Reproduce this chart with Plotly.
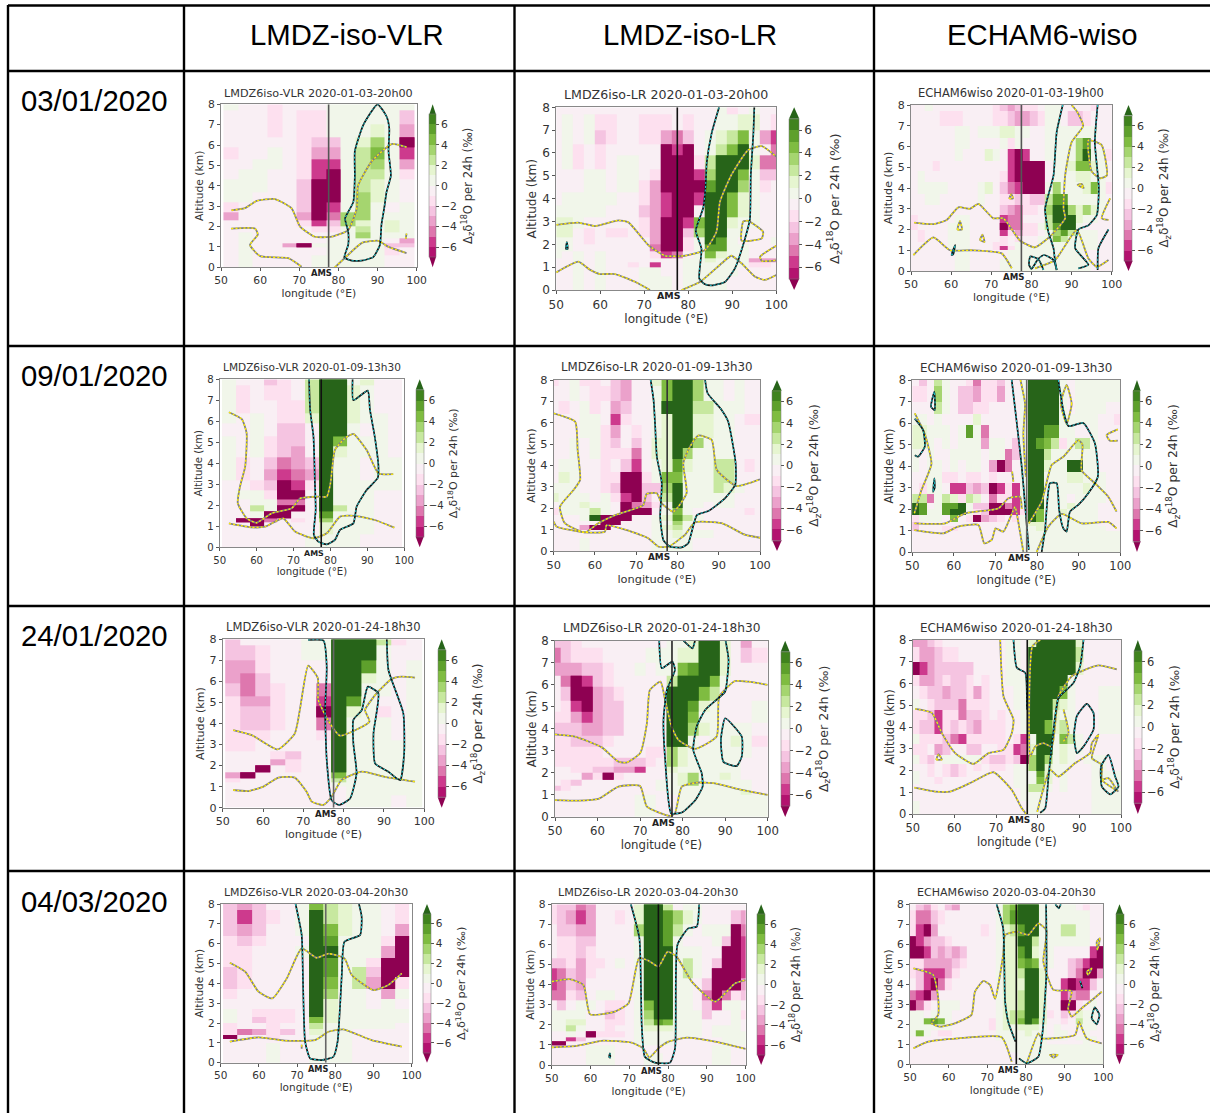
import plotly.graph_objects as go

W, H = 1210, 1113
LEVEL_EDGES = [0, 0.6, 1.0, 1.2, 1.4, 1.7, 2.0, 2.3, 2.7, 3.2, 3.7, 4.3, 4.8, 5.3, 5.9, 6.4, 7.0, 7.7, 8]
LON_VLR = [52.5, 56.25, 60, 63.75, 67.5, 71.25, 75, 78.75, 82.5, 86.25, 90, 93.75, 97.5]
LON_LR = [50, 52.5, 55, 57.5, 60, 62.5, 65, 67.5, 70, 72.5, 75, 77.5, 80, 82.5, 85, 87.5, 90, 92.5, 95, 97.5, 100]
LON_ECH = [50.625, 52.5, 54.375, 56.25, 58.125, 60, 61.875, 63.75, 65.625, 67.5, 69.375, 71.25, 73.125, 75, 76.875,
           78.75, 80.625, 82.5, 84.375, 86.25, 88.125, 90, 91.875, 93.75, 95.625, 97.5, 99.375]
AMS_LON = 77.5
COL_HEADERS = ["LMDZ-iso-VLR", "LMDZ-iso-LR", "ECHAM6-wiso"]
ROW_DATES = ["03/01/2020", "09/01/2020", "24/01/2020", "04/03/2020"]
TITLES = ["LMDZ6iso-VLR 2020-01-03-20h00", "LMDZ6iso-LR 2020-01-03-20h00", "ECHAM6wiso 2020-01-03-19h00",
          "LMDZ6iso-VLR 2020-01-09-13h30", "LMDZ6iso-LR 2020-01-09-13h30", "ECHAM6wiso 2020-01-09-13h30",
          "LMDZ6iso-VLR 2020-01-24-18h30", "LMDZ6iso-LR 2020-01-24-18h30", "ECHAM6wiso 2020-01-24-18h30",
          "LMDZ6iso-VLR 2020-03-04-20h30", "LMDZ6iso-LR 2020-03-04-20h30", "ECHAM6wiso 2020-03-04-20h30"]

# Values are the colour class: k = between k-1 and k, -k = between -k and -k+1. Rows run from 8 km down.
Z1 = [
[1,-1,-1,-2,-1,-1,-1,1,1,1,1,1,1],
[-1,-1,-1,-2,-1,-2,-2,1,1,1,1,1,-3],
[-1,-1,-1,-2,-1,-2,-2,1,1,1,2,1,-4],
[-1,-1,-1,-1,-1,-2,-3,-3,1,2,4,1,-7],
[-2,-1,-1,1,-1,-2,-4,-4,1,3,5,1,-6],
[-1,-1,1,1,-1,-2,-6,-6,1,3,4,1,-4],
[-1,1,1,-1,-1,-2,-6,-7,1,3,3,1,-2],
[1,1,1,-1,-1,-3,-7,-7,1,3,2,1,-1],
[1,1,-1,-1,-1,-3,-7,-7,1,4,2,1,-1],
[-2,-1,-1,-1,-1,-3,-7,-6,1,4,1,-1,1],
[-4,-1,-1,-1,-1,-4,-7,-5,4,4,1,1,1],
[-1,-1,-1,-1,-1,-2,-6,-3,4,2,1,2,1],
[-1,-1,-1,-1,-1,-1,-2,-2,1,3,1,2,1],
[-1,1,-1,-1,-1,-1,-1,-1,1,4,1,1,1],
[-1,1,-1,-1,-1,-1,-1,1,1,1,1,-1,-4],
[-1,1,-1,-1,-4,-7,1,1,1,1,1,-3,-3],
[-1,1,-1,-1,-1,-1,-1,1,1,1,1,-2,-1],
[-1,1,-1,-1,-1,-1,1,1,1,1,1,-1,-1]]
Z2 = [
[-1,-1,-1,-1,-1,-1,-1,-1,-1,-1,-1,-1,-1,-1,-1,1,-2,-1,1,-1,-1],
[-1,1,-1,1,-2,-2,-1,-1,-2,-2,-2,-1,-2,-1,-1,1,1,2,2,-1,-2],
[-1,1,-1,1,-3,-2,-1,-1,-2,-2,-4,-5,-3,-1,1,2,3,5,1,-4,-6],
[-1,1,-2,-1,-2,-1,-1,-1,-1,-1,-7,-6,-7,-1,1,3,5,7,1,-1,-5],
[-1,1,-2,-1,-2,-1,1,1,-1,-1,-7,-7,-7,-2,3,7,7,7,2,-5,-5],
[-1,-1,-1,1,1,-1,1,1,-1,-2,-7,-7,-7,-6,4,7,7,5,1,-3,-3],
[-1,-1,-1,1,1,-1,1,1,-2,-4,-7,-7,-7,-7,6,7,7,4,1,-2,-1],
[-1,1,1,1,1,1,-1,-1,-2,-4,-6,-7,-7,-6,7,7,5,2,1,-1,-1],
[1,1,1,1,1,-1,-1,-1,-3,-4,-6,-7,-7,-1,7,7,5,2,1,-1,-1],
[2,2,1,-1,-1,-1,-1,-1,-2,-4,-7,-7,-6,5,7,7,2,1,1,-1,-1],
[2,2,-1,-2,-1,-2,-2,-1,-2,-4,-7,-7,-3,4,7,7,1,1,-1,-1,-1],
[1,1,-1,-2,-1,-1,-1,-1,-1,-4,-7,-7,-2,1,7,6,1,-1,-1,-1,1],
[1,1,-1,-1,-1,-1,-1,-1,-1,-5,-7,-7,-2,1,6,6,1,1,-1,-1,-1],
[1,-1,1,-1,1,-1,-1,-1,-1,-2,-6,-5,-1,1,5,2,1,1,-1,-1,-1],
[-1,-1,1,-1,1,-1,-1,-1,-1,-1,-1,-1,1,1,2,1,1,1,-4,-4,-4],
[-1,-1,1,-1,1,-1,-1,-2,-1,-6,-1,-1,1,1,1,1,1,1,-2,-2,-1],
[-1,-1,1,-1,1,-1,-1,-1,1,1,-1,-1,1,1,1,1,1,-1,-1,-1,-1],
[-1,-1,1,-1,1,-1,-1,-1,1,1,1,-1,1,1,1,1,-1,-1,-1,-1,-1]]
Z3 = [
[-1,-1,1,-1,-1,-1,-1,-1,-1,-1,-1,-2,-3,-4,-3,-2,-2,-1,1,1,-1,-1,-1,-1,-2,-1,-1],
[-1,-1,-1,-1,-2,-2,-2,-1,-1,-1,-1,-2,-2,-3,-4,-4,-3,-2,1,1,-1,-3,-3,-2,-1,-1,-1],
[-1,-1,-1,-1,-1,-1,1,1,-1,1,1,1,2,2,1,1,-1,-1,1,1,1,1,1,1,1,-1,-1],
[-1,-1,-1,-1,-1,-1,1,1,-1,-1,-1,-1,1,-2,1,-1,-1,-1,1,1,1,1,4,6,-1,-1,-1],
[-1,-1,-1,-1,-1,-1,1,-1,-1,-1,2,1,-1,-6,-7,-6,-1,-1,1,1,1,1,4,7,1,1,-2],
[-1,-1,-1,-2,-1,-1,-1,-1,-1,-1,-1,-1,-1,-6,-7,-7,-7,-7,-1,1,1,2,5,5,2,1,-1],
[-1,1,-1,-1,-1,-1,-1,-1,-1,-1,-1,-1,-2,-6,-7,-7,-7,-7,-1,1,1,1,2,2,1,1,-1],
[-1,1,1,1,1,-1,-1,-1,-1,1,2,-1,-3,-5,-6,-7,-7,-7,1,4,1,1,1,2,5,1,-2],
[-1,-1,1,1,-1,-1,-1,-1,-1,1,-1,-1,-2,-2,-3,-2,-3,-3,3,6,6,1,1,1,1,1,-1],
[-1,-1,-1,-1,-1,-1,-1,-1,-1,-1,-1,-1,-3,-4,-5,-2,-2,-1,4,7,7,4,2,4,2,1,-1],
[-2,-1,-1,-1,-1,-1,1,1,-1,-1,-1,-1,-6,-5,-5,-1,-1,-1,3,7,7,7,2,1,1,-1,-1],
[-2,-1,-1,-1,-1,1,1,1,-1,-1,-1,-1,-7,-5,-5,-2,-2,1,3,6,7,7,1,-1,-1,-1,-1],
[-1,-2,-1,-1,-1,1,1,1,-1,-1,-1,-1,-6,-2,-4,-2,-2,-1,1,4,6,3,1,1,1,-1,-1],
[-1,-2,-1,-1,-1,1,1,1,-1,-1,-1,-1,-2,-1,-2,-1,-1,1,1,5,3,1,1,1,1,-1,-1],
[-1,-1,-1,-1,-1,1,1,1,-1,-1,-1,-2,-2,-1,1,-1,-1,1,1,1,1,1,1,1,1,-1,-1],
[-1,-1,-1,-1,-1,1,1,1,-1,-1,-1,-2,-6,-2,1,1,1,1,1,1,1,1,1,1,1,-1,-1],
[-1,-1,-1,-1,-1,-1,1,1,-1,-1,-1,-1,-1,1,1,1,1,1,1,1,1,1,1,-1,-1,-1,-1],
[-1,-1,-1,-1,-1,-1,1,1,-1,-1,-1,-1,1,1,1,1,1,1,1,1,1,1,1,1,-1,-1,-1]]
Z4 = [
[1,-1,-1,-3,-2,-1,3,7,7,1,2,-1,-1],
[1,-2,-1,-2,-2,-1,3,7,7,2,1,-1,-1],
[1,-2,-1,-1,-2,-2,3,7,7,2,1,-1,-1],
[1,-1,1,-1,-2,-2,2,7,7,2,1,1,-1],
[-1,-1,1,-1,-3,-3,-1,7,7,1,-1,1,-1],
[1,-1,1,-2,-3,-3,-1,7,5,1,1,1,-1],
[1,-1,1,-2,-3,-4,-1,7,2,1,1,1,-1],
[1,-2,-1,-3,-5,-4,-3,7,1,1,-1,1,1],
[1,-2,-1,-4,-6,-5,-4,7,1,1,-1,1,1],
[-1,-1,-2,-3,-7,-6,-2,7,1,1,1,1,1],
[-1,1,1,-2,-7,-7,-1,7,1,1,1,-1,-1],
[-1,-1,1,1,-5,-5,-1,7,1,1,1,-1,-1],
[-1,-1,3,1,-7,-7,-1,7,3,1,1,-1,-1],
[-1,-1,1,-7,-7,-1,-1,6,1,1,1,-1,-1],
[-1,-7,-7,-5,-1,-2,-1,4,1,1,1,-1,-1],
[-1,-1,-7,-1,-1,-1,-1,2,1,1,1,-1,-1],
[-1,-1,-1,-1,-1,-1,-1,2,1,1,1,-1,-1],
[-1,-1,-1,-1,-1,-1,1,1,1,1,-1,-1,-1]]
Z5 = [
[-2,-1,1,-2,-2,-1,-3,-4,-1,-1,2,5,7,7,4,1,1,-1,1,-1,-1],
[-1,-1,1,-1,-2,-2,-3,-4,-1,-1,1,5,7,7,4,1,1,-1,1,-1,-1],
[-1,-2,-1,1,-2,-1,-4,-3,-1,-1,1,7,7,7,3,3,1,1,1,-1,-1],
[-1,-1,-1,1,1,-1,-6,-2,-1,-1,1,2,7,7,2,2,1,1,-1,-2,-2],
[-1,-1,-1,1,1,-2,-4,-1,-2,-1,1,2,7,7,2,2,1,1,-1,-1,-1],
[-1,-1,1,-1,1,-2,-3,-1,-3,-1,2,2,7,7,4,1,1,1,-1,-1,-1],
[-1,-1,1,-1,1,-2,-2,-2,-5,-1,2,2,7,4,1,1,1,1,-1,-1,-1],
[-1,1,1,-1,-1,-2,-1,-3,-6,-1,1,2,6,2,1,1,3,3,-1,-2,-1],
[-1,2,1,-1,-1,-2,-2,-7,-7,-2,1,5,5,1,1,1,3,3,-1,-1,-1],
[1,1,1,-1,-1,-2,-3,-7,-7,-3,-3,4,7,1,1,1,3,2,1,-1,-1],
[2,1,1,1,-1,1,-2,-6,-7,-3,-1,3,7,1,1,1,1,1,-1,-1,-1],
[-1,1,1,2,1,1,-1,-7,-5,-4,-2,1,7,1,1,-1,1,1,-1,-1,-1],
[-2,1,1,1,3,1,-1,-7,-7,-7,-1,1,5,1,-1,-1,-1,-1,-1,-2,-1],
[-1,-1,-1,1,7,-7,-7,-7,-1,-1,1,2,6,3,1,-1,-1,-1,-1,-1,-1],
[-1,-1,-1,-1,-1,-7,-7,-1,-1,-1,1,1,4,1,-1,-1,-1,-1,-1,-1,-1],
[-1,-1,-1,-4,-7,-7,-1,-1,-1,-1,1,2,3,1,-1,-1,-1,-1,-1,-1,-1],
[-1,-1,-1,-1,-1,-1,-1,-1,-1,-1,1,1,2,1,1,1,-1,-1,-1,-1,-1],
[-1,-1,-1,1,-1,-1,-1,-1,-1,-1,1,1,1,1,-1,-1,-1,-1,-1,-1,-1]]
Z6 = [
[-1,-3,-1,3,1,-1,-1,-2,-5,-2,-2,-3,-1,-1,1,7,7,7,7,1,-1,1,1,1,1,1,1],
[-2,-2,-1,4,1,-1,-3,-3,-4,-2,-2,-4,-1,-1,1,7,7,7,7,1,-1,1,1,1,1,1,1],
[-1,-1,-1,3,1,-1,-3,-3,-2,-2,-1,-1,-1,-1,1,7,7,7,7,1,-1,1,1,1,1,-1,-1],
[1,1,-1,1,-1,-1,-1,-1,2,-1,-1,-1,-1,-1,1,7,7,7,7,1,1,1,1,1,-1,-1,-2],
[2,2,1,1,1,-1,1,6,1,-5,-1,-1,-1,-1,1,7,7,6,6,1,1,-1,-1,1,-1,-1,-1],
[2,2,1,-1,1,-1,1,1,1,-4,1,1,-1,-3,1,7,6,5,3,-2,1,3,3,1,-1,-1,-1],
[1,-1,1,-1,-1,1,1,1,1,-1,1,1,-5,-3,1,7,7,3,1,1,1,1,1,1,-1,-1,-1],
[1,-1,1,1,-1,1,-1,1,1,-1,-4,-7,-5,-1,1,7,7,2,1,1,7,7,1,1,-1,-1,-1],
[-1,-1,1,1,-2,-2,-1,-2,-2,-1,-2,-1,-1,-1,1,7,7,1,1,1,2,2,1,1,1,-1,-1],
[-1,-2,1,1,-1,-6,-6,-3,-4,-3,-7,-6,-2,-6,1,7,7,1,1,1,1,1,2,1,1,-1,-1],
[3,3,-5,1,3,2,-2,3,2,-1,-5,-2,-2,-6,1,7,7,1,1,1,-1,1,1,1,1,-1,-1],
[7,6,-1,1,6,6,7,1,-3,-3,-7,-7,-5,-6,1,7,7,1,1,1,2,1,1,1,-1,-1,-1],
[7,6,1,1,6,7,7,1,-2,-3,-7,-7,-7,-6,-2,7,5,1,1,2,1,1,1,1,-1,-1,-1],
[-2,1,1,1,-1,5,-1,-2,-7,-4,-3,-2,-1,-2,1,7,5,1,1,1,1,1,1,1,-1,-1,-1],
[-3,-1,-1,-1,-1,-1,-1,-1,-1,-1,-1,-1,-1,-1,1,2,2,1,1,1,1,1,1,1,-1,-1,-1],
[-3,-1,-1,-1,-2,-2,-1,-1,-1,-1,-1,-1,-1,-1,1,1,2,1,1,1,1,1,1,1,1,-1,-1],
[-1,-1,-1,-1,-1,-1,-1,-1,-1,-1,-1,-1,-1,-1,1,1,1,1,1,1,1,1,1,1,1,1,1],
[-1,-1,-1,-1,-1,-1,-1,-1,-1,-1,-1,-1,-1,-1,1,1,1,1,1,1,1,1,1,1,1,1,1]]
Z7 = [
[-3,-1,-1,-1,-1,1,1,7,7,7,3,-2,-1],
[-3,-3,-2,-1,-1,1,1,7,7,7,1,-1,-1],
[-4,-4,-2,-1,-1,-1,-1,7,7,6,1,-1,1],
[-4,-5,-3,-1,-1,-1,-1,7,7,2,1,-1,1],
[-3,-5,-3,-2,-1,-1,-5,7,7,1,1,-1,1],
[-2,-4,-4,-2,-1,-1,-6,7,6,1,-1,-1,1],
[-2,-3,-3,-2,-1,-1,-7,7,2,1,-2,-1,1],
[-2,-3,-3,-2,-1,-1,-5,7,1,1,1,-1,1],
[-2,-2,-2,-1,-1,-1,-2,7,1,1,1,-1,1],
[-2,-2,-1,-1,-1,-1,-1,7,1,1,1,1,1],
[-1,-1,-1,-2,-3,-1,-1,7,1,1,1,1,1],
[-1,-1,-1,-4,-2,-1,-1,7,1,1,1,1,1],
[-1,-1,-7,-1,-2,-1,-1,7,1,1,1,1,1],
[-4,-7,-1,-1,-1,-1,-1,5,1,1,1,1,1],
[-2,-1,-1,-1,-1,-1,-1,3,1,1,1,1,1],
[-1,-1,-1,-1,-1,-1,-1,1,1,1,1,1,1],
[-1,-1,-1,-1,-1,-1,-1,-1,1,1,1,1,1],
[-1,-1,-1,-1,-1,-1,-1,-1,1,1,1,-1,1]]
Z8 = [
[-3,-3,-2,-1,-1,-1,-1,-1,-1,-1,-1,1,1,2,7,7,2,-1,-4,-1,-1],
[-5,-3,-2,-2,-2,-1,-1,-1,-1,1,1,1,2,2,7,7,2,-1,-3,-2,-2],
[-4,-4,-4,-3,-3,-2,-1,-1,1,-1,1,1,5,6,7,7,2,-1,-1,-1,-1],
[-1,-5,-7,-6,-3,-2,-1,-1,-1,-1,-1,3,7,7,7,5,1,-1,-1,-1,-1],
[-1,-3,-7,-7,-4,-3,-2,-1,-1,-1,-1,7,7,7,5,3,-1,-1,-1,-1,-1],
[-1,-2,-6,-7,-4,-3,-3,-1,-1,-1,-1,7,7,6,2,1,-1,-1,-1,1,1],
[-2,-2,-4,-6,-4,-3,-3,-1,-1,-1,-1,7,7,5,1,1,-1,-1,-1,1,1],
[-3,-3,-3,-4,-4,-3,-3,-1,-1,-1,-1,7,7,4,2,1,1,1,1,-1,-1],
[-2,-2,-3,-3,-3,-2,-1,-1,-1,-1,-1,7,7,1,-1,1,1,2,1,-2,-2],
[-2,-2,-2,-2,-2,-1,-1,-1,-1,-2,-2,4,2,1,1,1,1,1,1,-1,-1],
[-2,-2,-2,-2,-2,-2,-3,-3,-3,-2,-1,4,2,1,1,1,1,1,-1,-1,-1],
[-1,-1,-2,-2,-3,-3,-4,-4,-6,-1,-1,2,1,1,1,1,1,1,-1,-1,-1],
[-1,-1,-1,-4,-2,-7,-2,-1,-1,-1,-1,1,2,4,1,1,2,1,-1,-1,-1],
[-1,-2,-3,-1,-1,-1,-1,-1,-1,-1,1,1,2,4,1,1,1,1,1,-1,-1],
[-3,-2,-1,-1,-1,-1,-1,-1,-1,-1,1,1,1,1,1,1,1,1,1,-1,-1],
[-1,-1,-1,-1,-1,-1,-1,-1,-1,-1,-1,1,1,1,1,1,1,1,2,-1,-1],
[-1,-1,-1,-1,-1,-1,-1,-1,1,1,-1,-1,1,1,1,1,1,1,1,1,1],
[-1,-1,-1,-1,-1,-1,-1,-1,1,1,-1,-1,1,1,1,1,1,1,1,1,1]]
Z9 = [
[-4,-4,-3,-2,-1,-1,-1,-1,-1,-1,-1,-1,1,1,-1,2,7,7,7,7,7,2,-1,-1,-1,-1,-1],
[-2,-4,-4,-3,-2,-2,-1,-1,-1,-1,-1,-1,1,1,-1,7,7,7,7,7,7,3,-1,-1,-1,-1,-1],
[-7,-6,-4,-3,-3,-3,-3,-3,-1,-1,-1,-1,1,1,-1,7,7,7,7,7,7,2,-1,-1,-1,-1,-1],
[-2,-4,-4,-3,-2,-3,-3,-2,-1,-2,-1,-1,1,1,1,7,7,7,7,7,1,-1,-1,-1,-1,-1,-1],
[-1,-2,-3,-3,-4,-3,-3,-2,-4,-2,-1,-1,-1,1,1,7,7,7,7,5,1,-1,-1,-1,1,1,1],
[1,-1,-2,-3,-3,-3,-5,-2,-2,-2,-1,-1,-1,1,1,7,7,7,3,2,1,-1,-1,-1,1,1,1],
[-2,-2,-3,-6,-2,-2,-5,-3,-3,-2,-1,-2,-1,-1,1,7,7,7,2,1,1,-1,-1,-1,1,1,1],
[-2,-3,-3,-6,-2,-3,-2,-3,-4,-2,-2,-2,-1,-1,1,7,7,5,2,3,1,-1,-1,-1,1,1,1],
[1,-2,-2,-2,-3,-5,-6,-2,-2,-2,-2,-2,-1,-2,-6,1,7,7,1,5,3,1,-1,-1,-1,-1,-1],
[-2,-2,-1,-4,-3,-1,-1,-3,-3,-1,-1,-2,-2,-6,-5,2,7,7,1,2,1,1,-1,-1,-1,-1,-1],
[1,-2,-3,-1,1,1,1,1,1,-2,-3,-3,-2,-3,-7,4,7,4,1,2,1,-1,1,1,1,-1,-1],
[-1,-1,-2,-1,-2,-3,-2,-1,-2,-1,-2,-2,-1,1,1,4,7,2,1,1,-1,-1,-1,1,1,-1,-1],
[1,-1,-2,-1,-2,-3,-2,-1,-1,-1,-1,-1,-1,1,1,1,6,2,1,1,-1,-1,-1,1,1,1,1],
[1,-1,-1,-2,-1,-1,-1,-1,-1,-1,-1,-1,-1,1,1,1,5,2,-1,1,-1,-1,-1,1,1,1,1],
[-1,-1,-1,-1,-1,-1,-1,-1,-1,-1,-1,-1,-1,1,1,3,3,1,-1,1,-1,-1,-1,1,1,1,1],
[-1,-1,-1,-1,-1,-1,-1,-1,-1,-1,-1,-1,-1,-1,1,3,3,1,-1,1,-1,-1,-1,1,1,1,1],
[-1,-1,-1,-1,-1,-1,-1,-1,-1,-1,-1,-1,-1,-1,1,1,1,-1,-1,-1,-1,-1,-1,1,1,1,1],
[1,-1,-1,-1,-1,-1,-1,-1,-1,-1,-1,-1,-1,-1,-1,1,1,-1,-1,-1,-1,-1,-1,1,1,1,1]]
Z10 = [
[-3,-4,-3,-1,-1,1,5,3,2,1,1,-1,-2],
[-3,-6,-3,-2,-1,1,7,3,2,1,1,-1,-2],
[-3,-4,-3,-1,-1,1,7,5,2,1,1,-1,-4],
[-2,-3,-2,-1,-1,-1,7,6,1,1,1,-2,-7],
[-2,-2,-1,-1,-1,1,7,7,1,1,1,-4,-7],
[-2,-2,-1,-1,-1,-1,7,6,1,1,-2,-7,-7],
[-3,-2,-1,-1,-1,-1,7,6,1,3,-3,-7,-7],
[-3,-2,-1,-1,-1,-1,7,5,1,3,-4,-7,-2],
[-2,-1,-1,-1,-1,-1,7,4,1,1,-1,-4,1],
[-1,-1,-1,-1,-1,-1,7,2,1,1,-1,1,-1],
[1,-1,-2,-2,-2,-1,7,2,1,1,1,1,1],
[1,-1,-3,-2,-2,-1,5,2,1,1,1,1,1],
[-2,-1,-1,-2,-1,-1,3,1,1,1,1,1,-1],
[-2,-5,-4,-2,-3,-1,2,1,1,-1,-1,-1,-1],
[-7,-1,-1,-2,-1,-1,1,1,1,-1,-1,-1,-1],
[-1,-1,-1,-1,-1,-1,1,1,1,-1,-1,-1,-1],
[-1,-1,-1,1,-1,-1,1,1,1,-1,-1,-1,-1],
[-1,-1,-1,1,-1,-1,1,1,1,-1,-1,-1,-1]]
Z11 = [
[-2,-3,-3,-5,-4,-1,-1,-1,-1,2,7,7,3,-1,1,1,-1,-1,-1,-1,-1],
[-2,-3,-4,-6,-4,-1,-1,-2,-1,2,7,7,6,4,2,1,-1,-1,-1,-3,-4],
[-1,-3,-3,-4,-4,-1,-1,-1,-1,4,7,7,6,3,1,-1,1,1,1,-7,-5],
[-1,-2,-2,-3,-3,-1,-1,-1,-1,1,7,7,6,1,-1,-1,-1,1,-3,-7,-6],
[-1,-2,-2,-3,-2,-1,-1,-1,-1,1,7,7,7,1,1,1,-1,-1,-7,-7,-6],
[-3,-3,-2,-4,-2,-2,-1,1,-1,1,7,7,7,1,3,1,-1,-3,-7,-7,-6],
[-6,-5,-3,-4,-2,-1,-1,-1,-1,1,7,7,7,1,3,1,-1,-7,-7,-7,-6],
[-6,-5,-3,-4,-1,-1,-1,-1,-1,1,7,7,7,1,1,-1,-3,-7,-7,-7,-4],
[-5,-5,-2,-3,-1,1,1,-1,-1,1,7,7,7,1,1,-1,-5,-7,-5,-2,-3],
[-1,-3,-1,1,1,-1,-2,-2,-1,1,5,7,7,1,1,-1,-3,-6,1,1,-1],
[1,1,1,1,-1,-1,-3,-2,-1,1,4,7,7,1,1,1,-3,-1,-1,1,-2],
[1,1,2,2,-1,-1,-2,-2,-1,1,3,6,5,1,1,1,-1,-1,-1,1,-1],
[1,1,3,1,-1,-1,-2,-1,-1,1,2,2,2,1,1,1,-1,1,1,1,-1],
[-1,-1,1,-1,-7,-2,-2,-2,-1,1,1,1,1,1,1,1,-1,1,1,1,1],
[-1,-1,-6,-3,-1,-1,-1,-1,-1,1,1,1,1,-1,-1,-1,-1,-1,1,1,1],
[-7,-7,-1,-1,-1,-1,-1,-1,-1,1,1,1,1,-1,-1,-1,-1,-1,1,1,1],
[-1,-1,-1,-1,1,1,1,-1,-1,-1,-1,-1,-1,-1,-1,-1,-1,1,1,-1,-1],
[-1,-1,-1,-1,1,1,1,-1,-1,-1,1,1,-1,-1,-1,-1,-1,1,1,-1,-1]]
Z12 = [
[-1,-3,-4,-2,-1,-3,-4,-1,-1,-1,-1,-1,1,4,5,7,7,7,1,1,1,1,1,-1,-2,-1,-1],
[-2,-5,-5,-3,-2,-1,-1,-1,-1,-1,-1,-1,1,4,6,7,7,7,1,1,1,1,1,1,1,-1,-1],
[-2,-6,-7,-4,-1,-1,-1,-1,-1,-1,-2,-1,1,2,3,6,7,7,1,1,1,3,3,1,1,-1,-1],
[-7,-6,-4,-3,-3,-2,-1,-1,-1,-1,-1,-1,1,2,2,7,7,3,1,1,1,1,1,1,1,-1,-1],
[-7,-7,-6,-3,-4,-3,-4,-3,-1,-1,-1,-1,1,2,2,6,7,2,1,1,-1,-1,-1,-1,-1,-6,-7],
[-2,-2,-4,-4,-4,-4,-3,-2,-1,-1,-1,-1,1,2,2,5,6,5,1,1,-1,-1,-3,-4,-6,-7,-7],
[-2,-3,-6,-6,-6,-4,-2,-1,-1,-1,-1,-1,1,2,2,3,7,7,2,-1,-1,-1,-3,-5,-7,-7,-4],
[-1,-3,-6,-7,-5,-2,-1,-1,-1,-1,-1,-1,1,2,2,2,7,7,2,-1,-1,-6,-7,-6,-6,-3,-1],
[-5,-6,-7,-4,-1,-1,-1,-1,-1,-1,-1,-1,1,2,2,3,7,7,2,-1,-1,-6,-4,-5,-5,-1,-1],
[-7,-5,-2,-1,1,1,1,-1,-1,-1,-1,-1,1,2,2,3,7,7,2,-1,-1,-7,-7,-2,-1,1,-1],
[1,1,-1,1,1,1,-1,-1,-1,-1,-1,-1,1,2,3,4,7,7,2,-2,-1,-3,-2,2,1,1,-1],
[1,1,5,6,5,1,-1,-1,-1,-1,-1,-2,1,2,3,5,7,6,2,-1,-1,-2,-1,3,1,1,-1],
[1,1,1,1,1,1,-1,-1,-1,-1,-1,-2,1,2,1,2,2,2,1,-1,1,-1,-1,1,1,1,-1],
[1,5,1,-1,-2,-2,-1,-1,-1,-1,-1,-1,1,1,1,1,2,1,1,-1,1,1,-1,-1,1,-1,-1],
[-1,-1,-1,-1,-1,-1,-1,-1,-1,-1,-1,-1,1,1,1,1,1,1,1,1,1,1,-1,1,1,1,-1],
[-1,-1,-1,-1,-1,-1,-1,-1,-1,-1,-1,-1,-1,1,1,1,1,1,1,-1,-1,-1,-1,-1,1,-1,-1],
[-1,-1,-1,-1,-1,-1,-1,-1,-1,-1,-1,-1,-1,-1,1,1,1,1,1,1,1,1,1,1,1,1,1],
[-1,-1,-1,-1,-1,-1,-1,-1,-1,-1,-1,-1,-1,-1,-1,1,1,1,1,1,1,1,1,1,1,1,1]]

# Contours as (longitude, altitude km) polylines
CY1 = [[(90,8),(92.3,7.4),(93,6.8),(92.8,5.7),(93.4,4.5),(92.3,3.7),(91.7,2.9),(91,2.1),(90.6,1.1),(88.9,.5),(85.9,.33),(83.4,.33),(81.5,.47),(82.5,1.1),(82.5,1.75),(81.7,2.4),(83.8,3.2),(84.2,4.5),(84.2,5.7),(86.4,7),(90,8)]]
YE1 = [[(52.7,2.8),(56.1,2.9),(59.1,3.26),(63.8,3.35),(68,2.9),(70.2,2),(74,1.5),(78.3,1.5),(82.5,1.83),(84.7,2.9),(85,4),(88.5,5.2),(93.6,6.05),(97.4,5.9)],
       [(52.6,1.9),(58.7,1.9),(59.4,1.6),(57.4,1.1),(60,.55),(67.2,.45),(70.6,.03)],
       [(79.1,0),(81.7,.47),(86,1.2),(90.2,1.3),(92.8,1),(97.4,.7)],
       [(97.2,1.4),(97.4,1.65)]]
CY2 = [[(87,8),(85.3,6.86),(84.2,5.6),(83.9,4.45),(83.4,3.6),(81.7,2.6),(83,1.8),(82.5,.5),(83.8,.25),(85.3,.2),(88.3,.35),(90.6,.95),(92.9,2.26),(94,3.1),(94.2,5),(94.8,6.9),(95,8)],
       [(52.4,2.1),(52.2,1.8),(52.6,1.8),(52.4,2.1)]]
YE2 = [[(50,2.85),(55,2.95),(58.8,2.8),(64.1,3.05),(66.4,2.96),(70.9,1.97),(74.7,1.5),(79.2,1.5),(83.8,1.75),(86.4,2.55),(87.2,3.87),(89.8,5.04),(93.6,6.13),(96.7,6.3),(100,5.84)],
       [(50,.77),(55,1.24),(57.7,.88),(59.9,.7),(63.3,.7),(67.9,.36),(71.3,0)],
       [(78.5,0),(82.7,.36),(87.6,1.17),(89.8,1.5),(92.1,1.17),(95.2,.58),(97.4,.44),(100,.66)],
       [(92.5,3),(93.6,3.03),(97,2.55),(96.7,2.26),(92.1,2.16),(92.5,3)],
       [(100,1.94),(96.3,1.46),(96.7,1.27),(100,1.3)]]
CY3 = [[(87.8,8),(86.3,6.7),(85.5,4.6),(83.4,3),(84.2,1.9),(85.5,1.1),(85.9,.45),(86.3,.05)],
       [(96.5,8),(95.8,6.2),(96.8,4),(96.3,2.7),(94.2,2.2),(91.7,2),(90.9,1.1),(94.2,.3),(91.7,.13)],
       [(99.2,2),(96.7,1.1),(96.5,.05)],
       [(83,.05),(81.7,.58),(79.7,.7),(79.4,.3),(80,.1),(81.7,.58),(83.2,.77),(85.5,.53),(86.3,.05)],
       [(61,1.25),(60.1,.77),(60.5,.8),(61,1.25)]]
YE3 = [[(50.8,2.33),(55.6,2.26),(58.9,2.46),(61.8,3.07),(64.7,3),(66.8,3.23),(70.5,2.54),(73,2.54),(77.2,1.46),(80.9,1.14),(85,1.73),(88.4,2.54),(88,3),(88.4,4.6),(90,6.2),(92.9,7),(91.3,7.7),(90,8)],
       [(50.6,.77),(55.6,1.62),(59.7,1),(65.1,1),(72.6,.85),(75.1,.13)],
       [(80.9,.13),(85.9,.53),(91.3,1.98),(94.2,.6),(96.3,.2),(99.2,.53)],
       [(94.2,6.3),(97.5,6.07),(98.8,4.6),(97.1,4.47),(95,4.8),(94.2,6.3)],
       [(62.2,2.4),(61.6,2),(62.7,2),(62.2,2.4)],
       [(67.8,1.75),(67.2,1.5),(68.3,1.4),(67.8,1.75)],
       [(75,3.7),(74.5,3.5),(75.4,3.5),(75,3.7)],
       [(92.5,4.2),(91.5,4.15),(93,4),(92.5,4.2)],
       [(99.6,3.5),(97.5,2.54),(99.2,2.46)]]
CY4 = [[(74.2,8),(74.5,6.54),(75.4,5.27),(75.8,3),(76,1.78),(75.5,.6),(76.7,.27),(79,.14),(81.2,.35),(82.6,.83),(86.2,1.14),(87.1,1.94),(89.8,2.73),(92.8,3.3),(93,3.84),(92,5.27),(90.7,6.54),(90.1,7.46),(86.2,7),(86,8)]]
YE4 = [[(52.5,6.43),(56,6.1),(57.3,5.43),(56.9,3.84),(55.5,2.9),(54.9,2.1),(57.3,1.38),(60,1.17),(64.1,1.62),(69.5,1.86),(71.8,2.33),(76.7,2.41),(79,2.41),(80,3.05),(81.2,4.63),(83.9,5.19),(86.2,5.4),(89.8,4.63),(93,3.52),(97,3.48)],
       [(52.5,1.14),(58.7,.95),(62.3,.98),(67.2,1.38),(70.4,.75),(75.4,.43),(79,.67),(82.6,1.46),(86.6,1.5),(92,1.3),(97.3,.94)]]
CY5 = [[(73.5,8),(74.2,7.07),(74.6,5.82),(75,4.41),(76.2,3.17),(75.8,1.6),(76.6,.5),(78.2,.2),(81,.17),(82.6,.36),(84.7,1.68),(87.5,1.87),(91.5,2.46),(94,3.1),(94.1,4.1),(92.3,6.05),(90.7,6.6),(87.3,7.38),(86.7,8)]]
YE5 = [[(50,6.44),(55.2,6.05),(55.8,4.73),(56.4,3.32),(54.8,2.85),(51.5,2.07),(52.7,1.3),(57.6,.87),(60.8,1.3),(64.9,1.68),(71.7,2.15),(72.5,2.67),(75,2.7),(76.2,2.23),(79,1.84),(82.2,2.7),(81.4,4.1),(82.6,4.73),(85,5.4),(88.3,5.2),(89.5,3.8),(94.3,3.04),(100,3.35)],
       [(50,1.37),(50.7,1.14),(57.6,.87),(62.4,.9),(62.8,1.2),(67.7,.98),(72.9,.6),(75.4,.2),(77.8,.2),(81.8,.75),(84.2,1.34),(90.7,1.3),(96.5,.75),(100,.62)]]
CY6 = [[(73.9,8),(76.3,3.97),(78,.1)],
       [(85.1,8),(86.3,6.6),(87.5,5.86),(91.1,6),(93.9,5.05),(94.6,3.5),(92.3,2.73),(89.9,2.19),(87.9,1.88),(87.1,.95),(86.3,1.1),(85.3,1.95),(84.7,3.2),(83.1,3.2),(81.9,1),(81.1,0)],
       [(55.3,7.46),(54.5,6.76),(55.4,6.6),(55.3,7.46)],
       [(55.3,3.43),(55,2.8),(55.4,3),(55.3,3.43)],
       [(50.6,6.2),(52.6,5.67),(53,4.9),(51.4,4.43),(50.6,4.5)]]
YE6 = [[(50.6,6.45),(53,5.5),(54.6,4.1),(52.2,2.88),(50.5,1.8)],
       [(50.5,1.33),(57.9,1.33),(62.7,1.8),(70.7,2.03),(73.1,2.5),(75.9,2.57),(76.3,2)],
       [(76,8),(77.1,6.9),(76.7,5.5),(77.3,3.5)],
       [(50.5,1.02),(57.5,.87),(61,1.18),(65.9,1.26),(67.3,.4),(69.1,.56),(70,1.1),(71.9,.95),(74.7,2.1),(75.1,1.8),(76.7,0)],
       [(78,1.33),(81.1,2.34),(83.5,4.05),(86.3,4.43),(89.9,5.2),(90.9,5),(90.7,3.8),(93.9,3.2),(97.1,2.57),(99.1,1.88)],
       [(79.9,0),(82.7,1.18),(85.9,1.77),(90.7,1.33),(97.1,1.4),(99.1,1.1)],
       [(87.1,7.77),(88.3,6.9),(87.1,5.95),(85.7,6.9),(87.1,7.77)],
       [(99.4,5.7),(96.7,5.44),(97.5,5.18),(99.4,5.18)],
       [(74,3.74),(74.3,3.27)]]
CY7 = [[(71.2,7.97),(75,7.94),(75.8,6.7),(75.4,4.64),(75.8,2.27),(77,.36),(78.8,.13),(81.6,.44),(83.2,1.63),(82.4,3.06),(82.4,4.17),(84.5,4.64),(86,5.75),(88.6,5.44),(87.4,3.53),(87.8,2.1),(91.1,1.71),(94,1.31),(95,2.58),(94.8,4.48),(91.1,6.54),(90.7,8)]]
YE7 = [[(52.6,3.69),(57.2,3.45),(63.6,2.77),(67.9,3.53),(71.2,6.75),(73.6,6.15),(73.7,5.12),(76.6,4),(79.1,3.42),(86.4,4.09),(85.3,4.64),(88.2,5.44),(91.9,6.12),(94.4,6.23),(97.7,6.18)],
       [(52.6,.84),(56.4,.79),(60.1,1),(63.8,1.43),(67.9,1.43),(70.8,.76),(72.1,.29),(75,.13),(77,.52),(79.5,1.32),(84.5,1.71),(90.2,1.47),(97.7,1.24)]]
CY8 = [[(74.5,8),(75.1,6.75),(77.6,7.05),(78.2,6.67),(76.3,5.76),(75.5,4.4),(75.9,2.6),(77.3,.17),(79.8,.2),(83,.77),(84.7,1.38),(84.5,1.98),(82.5,3.04),(83.3,4.1),(85.3,4.86),(88.4,5.39),(90,5.69),(90.8,7.13),(90.1,8)],
       [(90,4.48),(89,3.5),(89.6,2.5),(92.7,2.31),(93.9,2.74),(93.9,3.65),(90,4.48)],
       [(80.2,8),(82.3,7.65),(82.9,8)]]
YE8 = [[(50,3.75),(54.7,3.65),(61,3.16),(64.9,2.51),(66.8,2.47),(70,2.89),(71.6,4.25),(72.3,5.76),(74.8,6.14),(75.9,5.31),(77.4,4.1),(79,3.5),(82.9,3.09),(88,3.65),(88.6,5.46),(92.3,6.17),(95.5,6.14),(100,6)],
       [(50,.77),(55.5,.74),(60.2,.82),(64.9,1.38),(70,1.41),(71.6,.47),(77,.05),(78.2,.17),(79.8,1.38),(83.3,1.56),(87.6,1.53),(93.9,1.23),(100,1)]]
CY9 = [[(74.2,8),(75,6.72),(77,6.5),(77.4,4.8)],
       [(91,8),(90.2,6.8),(88.6,6.03),(85,5.34),(84.2,4.5),(82.6,1.72),(81.8,.26),(80.6,.06)],
       [(91.8,5.06),(93.4,4.65),(93.4,3.88),(91,3.1),(89.4,2.8),(88.7,3.57),(89.4,4.5),(91.8,5.06)],
       [(97,2.72),(98.6,1.72),(99.4,1.26),(97.4,.9),(95.4,1.26),(95.2,2.18),(97,2.72)]]
YE9 = [[(71,8),(71.8,5.4),(74.2,4.34),(73.8,3.72),(71.8,2.95),(68.2,2.8),(64.6,2.3),(60.2,2.8),(57,3.72),(54.6,4.65),(50.6,4.83)],
       [(50.4,1.21),(55.4,1.03),(59,1.03),(64.2,1.46),(69.4,1.92),(73.8,1.1),(76.2,.26),(77.2,0)],
       [(80.6,8),(78.7,7.7),(78.2,2.65),(79.4,3.1),(81.4,3.26),(83.4,3.1),(85,5.42),(88.2,6.34),(90.6,6.57),(94.6,6.83),(99,6.65)],
       [(79.9,.1),(83,2.03),(85,1.72),(89,2.34),(92.6,2.8),(93,3.26),(94.6,3.65),(93,2.57),(95.4,2.26),(95.4,1.57),(99.4,1.03)],
       [(86.2,4.8),(87.4,3.72),(86.2,3.34)],
       [(56.2,2.75),(55.7,2.5),(57,2.5),(56.2,2.75)],
       [(95.4,1.57),(97,1.65),(99,1.1)]]
CY10 = [[(69.6,8),(71.2,6.44),(71.6,3.58),(72.1,1.06),(73.4,.22),(76.4,.13),(79.5,.3),(80.6,1.06),(81.7,4.42),(82.4,6.1),(86.5,6.44),(86.9,7.36),(86.2,8)]]
YE10 = [[(52.4,5.04),(56.4,4.59),(59.9,3.58),(63.5,3.24),(67.3,4.25),(71.2,5.76),(75.1,5.29),(78.2,5.5),(82.4,5.26),(84.3,4.42),(90,3.66),(93.9,3.92),(97.4,4.5)],
        [(52.4,1.06),(59.9,1.28),(66.8,1.11),(74.7,1.14),(78.2,1.56),(82.1,1.68),(89.5,1.14),(97.4,.81)],
        [(71.2,.9),(71.2,.7)]]
CY11 = [[(70.4,8),(72.6,6.31),(73.2,2),(74,.41),(76.6,.12),(80.5,.12),(81.8,.83),(82.4,5.98),(85.2,6.8),(87.4,6.89),(88,8)],
        [(65,.58),(64.8,.4),(65.1,.37),(65,.58)]]
YE11 = [[(50,4.15),(54.7,4.27),(58.2,3.98),(59.9,2.52),(66.3,2.66),(69.8,3.07),(72.5,5.31),(74.9,5.2),(77.5,4.9),(79.9,5.64),(82.2,5.39),(86.1,4.15),(92.1,3.15),(97.3,4.07),(100,4.23)],
        [(50,.88),(56.4,.95),(63.3,1.21),(70.6,1.11),(73.6,.83),(75.2,.37),(77.5,.83),(80.1,1.16),(84.8,1.36),(92.1,1.16),(100,.8)]]
CY12 = [[(72.4,8),(74.1,6.8),(74.6,3.13),(75.4,2.13),(77.3,1.13)],
        [(85.2,8),(85.3,4.63),(84.3,1.63),(83.2,.38),(80.2,.05),(78.2,.3)],
        [(97.8,2.85),(99,2.47),(98.3,2),(97,2.3),(97.8,2.85)],
        [(94,4.17),(94.6,3.8)],
        [(87.6,8),(88.5,7.8),(89,8)]]
YE12 = [[(50.9,4.8),(56,4.47),(57.3,3.3),(57.3,2.47),(55.6,2.05),(57.8,1.88),(61.6,2.05),(65.9,2.47),(66.8,3.63),(69,4.17),(70.7,3.97),(72,3.27),(74.1,5.47),(74.6,6.47),(77.6,6.63),(80.6,6.47),(83.2,7.05),(85.3,6.7),(84.5,5.13),(87.1,3.72),(91.8,3.67),(90.9,2.8),(91.8,2.38),(94.4,2.8),(97,3.2),(99.6,3.63)],
        [(50.9,.8),(54.7,1.13),(62.5,1.3),(73.7,1.35),(76.3,.13)],
        [(80.2,.05),(83.2,1.55),(84.1,1.3),(92.7,1.47),(93.7,2.13),(95.7,1.3),(99.6,1.05)],
        [(95.7,4.63),(97,4.8),(96.1,4.47),(95.7,4.63)],
        [(98.3,6.13),(99.1,6.3),(98.5,5.72),(98.3,6.13)],
        [(86.2,.47),(88.2,.47),(87.1,.33),(86.2,.47)]]

Z_ALL = [Z1, Z2, Z3, Z4, Z5, Z6, Z7, Z8, Z9, Z10, Z11, Z12]
CY_ALL = [CY1, CY2, CY3, CY4, CY5, CY6, CY7, CY8, CY9, CY10, CY11, CY12]
YE_ALL = [YE1, YE2, YE3, YE4, YE5, YE6, YE7, YE8, YE9, YE10, YE11, YE12]

# Panel boxes in window pixels: axes L, R, T, B, colourbar l, r, title centre x, title y
BOXES = [
 (221, 416.7, 104.3, 267.3, 429.3, 436, 318.3, 93.3),
 (556.3, 776.3, 107.3, 290, 789, 799.3, 665.7, 94.3),
 (911, 1111.7, 105, 271, 1124.3, 1132.7, 1011, 93.3),
 (219.7, 404.3, 379.3, 547.3, 415.7, 423.7, 311.7, 367.3),
 (553.7, 760, 380, 551, 772.3, 781.7, 656.7, 367.3),
 (912.3, 1120.3, 380, 552, 1133.3, 1140.7, 1016, 367.7),
 (222.7, 424.3, 639.3, 807.7, 437.7, 445.7, 323.3, 627.3),
 (555, 767.7, 640.7, 817, 780.7, 789.7, 661, 627.7),
 (912.7, 1121, 640, 814, 1134, 1141.7, 1016.7, 627.7),
 (220.7, 411.7, 904, 1062.7, 423, 431, 316, 892.7),
 (551.7, 745.7, 904.3, 1065, 757.3, 765, 648.3, 892.7),
 (910, 1103.3, 904.3, 1064.3, 1115.7, 1123.3, 1006.7, 892.7)]
AMS_COLORS = ["#555", "#111", "#555", "#111", "#333", "#666", "#666", "#222", "#111", "#666", "#111", "#111"]

def fx(p): return p / W
def fy(p): return 1 - p / H

NODES = ["#8e0152", "#c51b7d", "#de77ae", "#f1b6da", "#fde0ef", "#f7f7f7", "#e6f5d0", "#b8e186", "#7fbc41", "#4d9221", "#276419"]
def cmap(t):
    s = t * 10
    i = min(int(s), 9)
    f = s - i
    a = [int(NODES[i][j:j + 2], 16) for j in (1, 3, 5)]
    b = [int(NODES[i + 1][j:j + 2], 16) for j in (1, 3, 5)]
    return "rgb(%d,%d,%d)" % tuple(round(a[k] + (b[k] - a[k]) * f) for k in range(3))

BANDS = [cmap(i / 15) for i in range(1, 15)]
SCALE = []
for i, c in enumerate(BANDS):
    SCALE += [[i / 14, c], [(i + 1) / 14, c]]
OVER_SCALE = [[0, NODES[0]], [0.5, NODES[0]], [0.5, NODES[-1]], [1, NODES[-1]]]

def edges(c):
    out = [c[0] - (c[1] - c[0]) / 2]
    for a, b in zip(c[:-1], c[1:]):
        out.append((a + b) / 2)
    out.append(c[-1] + (c[-1] - c[-2]) / 2)
    return out

def poly(lines):
    xs, ys = [], []
    for line in lines:
        xs += [p[0] for p in line] + [None]
        ys += [p[1] for p in line] + [None]
    return xs, ys

LONS = [LON_VLR, LON_LR, LON_ECH]
fig = go.Figure()
layout = {}
shapes = []
annos = []
TXT = "#333"
for n in range(12):
    L, R, T, B, cl, cr, tx, ty = BOXES[n]
    ax = n + 1
    xn = "x" if ax == 1 else f"x{ax}"
    yn = "y" if ax == 1 else f"y{ax}"
    fs = (R - L) / 196 * 10.8
    lon = LONS[n % 3]
    rows = Z_ALL[n]
    for r in rows:
        assert len(r) == len(lon), (n, len(r), len(lon))
    assert len(rows) == len(LEVEL_EDGES) - 1, n
    z = [[k - 0.5 if k > 0 else k + 0.5 for k in r] for r in rows[::-1]]
    z_over = [[(1 if k > 0 else -1) if abs(k) == 7 else None for k in r] for r in rows[::-1]]
    h = B - T
    tip = h * 0.0625
    fig.add_trace(go.Heatmap(
        x=edges(lon), y=LEVEL_EDGES, z=z, zmin=-7, zmax=7, colorscale=SCALE, xaxis=xn, yaxis=yn, hoverinfo="skip",
        colorbar=dict(x=fx(cl), xanchor="left", xpad=0, ypad=0, thickness=cr - cl, thicknessmode="pixels",
                      y=fy((T + B) / 2), yanchor="middle", lenmode="pixels", len=h - 2 * tip,
                      tickvals=[-6, -4, -2, 0, 2, 4, 6], ticks="outside", ticklen=3, tickwidth=0.7, tickcolor="#555",
                      outlinewidth=0.5, outlinecolor="#777", tickfont=dict(family="DejaVu Sans", size=fs, color=TXT),
                      title=dict(text="Δ<sub>z</sub>δ<sup>18</sup>O per 24h (‰)", side="right",
                                 font=dict(family="DejaVu Sans", size=fs * 1.08, color=TXT)))))
    fig.add_trace(go.Heatmap(x=edges(lon), y=LEVEL_EDGES, z=z_over, zmin=-1, zmax=1, colorscale=OVER_SCALE, showscale=False,
                             xaxis=xn, yaxis=yn, hoverinfo="skip"))
    for lines, under, over, wu, wo in ((YE_ALL[n], "#808080", "#ffee00", 1.8, 1.3), (CY_ALL[n], "#111111", "#20d8e0", 1.7, 1.0)):
        xs, ys = poly(lines)
        fig.add_trace(go.Scatter(x=xs, y=ys, mode="lines", xaxis=xn, yaxis=yn, hoverinfo="skip", showlegend=False,
                                 line=dict(color=under, width=wu, shape="spline", smoothing=0.5)))
        fig.add_trace(go.Scatter(x=xs, y=ys, mode="lines", xaxis=xn, yaxis=yn, hoverinfo="skip", showlegend=False,
                                 line=dict(color=over, width=wo, dash="2px,2px", shape="spline", smoothing=0.5)))
    fig.add_trace(go.Scatter(x=[AMS_LON, AMS_LON], y=[0, 8], mode="lines", xaxis=xn, yaxis=yn, hoverinfo="skip", showlegend=False,
                             line=dict(color=AMS_COLORS[n], width=1.6)))
    layout["xaxis" if ax == 1 else f"xaxis{ax}"] = dict(
        domain=[fx(L), fx(R)], range=[50, 100], anchor=yn, tickvals=[50, 60, 70, 80, 90, 100], ticks="outside", ticklen=3,
        tickwidth=0.7, tickcolor="#555", showgrid=False, zeroline=False, showline=True, mirror=True, linecolor="#888", linewidth=1,
        tickfont=dict(family="DejaVu Sans", size=fs, color=TXT),
        title=dict(text="longitude (°E)", standoff=2, font=dict(family="DejaVu Sans", size=fs, color=TXT)))
    layout["yaxis" if ax == 1 else f"yaxis{ax}"] = dict(
        domain=[fy(B), fy(T)], range=[0, 8], anchor=xn, tickvals=list(range(9)), ticks="outside", ticklen=3,
        tickwidth=0.7, tickcolor="#555", showgrid=False, zeroline=False, showline=True, mirror=True, linecolor="#888", linewidth=1,
        tickfont=dict(family="DejaVu Sans", size=fs, color=TXT),
        title=dict(text="Altitude (km)", standoff=2, font=dict(family="DejaVu Sans", size=fs, color=TXT)))
    annos.append(dict(text=TITLES[n], x=fx(tx), y=fy(ty), xref="paper", yref="paper", showarrow=False, xanchor="center", yanchor="middle",
                      font=dict(family="DejaVu Sans", size=fs * 1.04, color=TXT)))
    annos.append(dict(text="<b>AMS</b>", x=75.6, xref=xn, y=fy(B + 6), yref="paper", showarrow=False, xanchor="center", yanchor="middle",
                      font=dict(family="DejaVu Sans", size=fs * 0.78, color="#222")))
    mid = (cl + cr) / 2
    shapes.append(dict(type="path", xref="paper", yref="paper", line=dict(width=0), fillcolor="#276419",
                       path=f"M {fx(cl)},{fy(T + tip)} L {fx(cr)},{fy(T + tip)} L {fx(mid)},{fy(T)} Z"))
    shapes.append(dict(type="path", xref="paper", yref="paper", line=dict(width=0), fillcolor="#8e0152",
                       path=f"M {fx(cl)},{fy(B - tip)} L {fx(cr)},{fy(B - tip)} L {fx(mid)},{fy(B)} Z"))

# Table frame
for px in (8, 184, 514.5, 874):
    shapes.append(dict(type="line", xref="paper", yref="paper", x0=fx(px), x1=fx(px), y0=fy(5), y1=0, line=dict(color="black", width=2.4)))
for py in (5.5, 71, 346, 606, 871):
    shapes.append(dict(type="line", xref="paper", yref="paper", x0=fx(8), x1=1, y0=fy(py), y1=fy(py), line=dict(color="black", width=2.4)))
for text, cx in zip(COL_HEADERS, (346.5, 690, 1041.5)):
    annos.append(dict(text=text, x=fx(cx), y=fy(35), xref="paper", yref="paper", showarrow=False, xanchor="center", yanchor="middle",
                      font=dict(family="Liberation Sans", size=29.3, color="black")))
for text, cy in zip(ROW_DATES, (100, 375, 635, 901)):
    annos.append(dict(text=text, x=fx(19), y=fy(cy), xref="paper", yref="paper", showarrow=False, xanchor="left", yanchor="middle",
                      font=dict(family="Liberation Sans", size=29.3, color="black")))

fig.update_layout(width=W, height=H, margin=dict(l=0, r=0, t=0, b=0, autoexpand=False), paper_bgcolor="white", plot_bgcolor="white",
                  showlegend=False, shapes=shapes, annotations=annos, **layout)
fig.write_html("out.html", config=dict(displayModeBar=False),
               post_script="document.body.style.margin='0';document.body.style.overflow='hidden';")
